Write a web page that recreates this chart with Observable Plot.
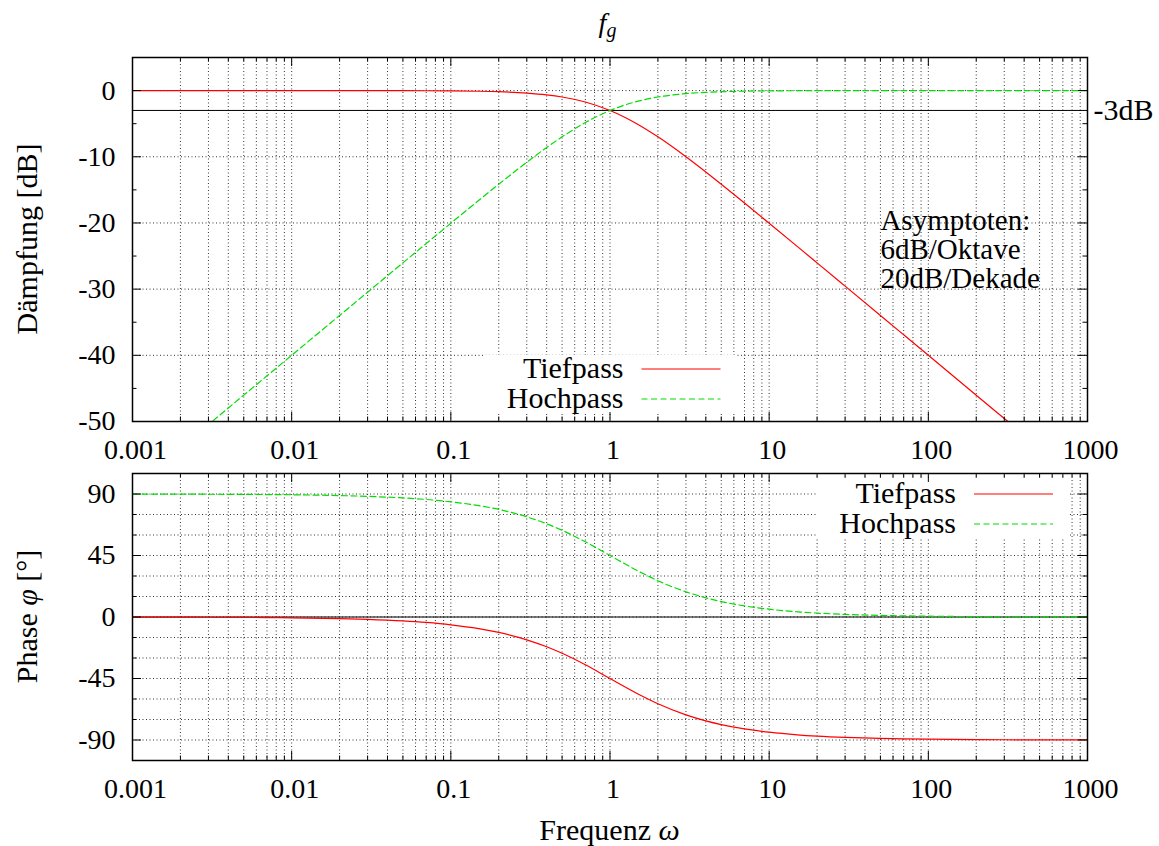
<!DOCTYPE html>
<html><head><meta charset="utf-8">
<script src="https://cdn.jsdelivr.net/npm/d3@7"></script>
<script src="https://cdn.jsdelivr.net/npm/@observablehq/plot@0.6"></script>
<style>
body{margin:0;background:#fff;}
#chart{position:relative;width:1159px;height:846px;background:#fff;}
#chart svg{position:absolute;left:0;font-family:"Liberation Serif",serif;}
#chart svg text{font-family:"Liberation Serif",serif;}
</style></head><body><div id="chart"></div>
<script>
// ---- data ----
const omega = [0.001,0.002,0.003,0.005,0.007,0.01,0.02,0.03,0.05,0.07,0.1,0.15,0.2,0.3,0.4,0.5,0.7,1,1.5,2,3,4,5,7,10,15,20,30,50,70,100,200,300,500,1000];
const tiefpassDB = [0,0,0,0,0,-0.0004,-0.0017,-0.004,-0.011,-0.021,-0.043,-0.097,-0.17,-0.374,-0.645,-0.969,-1.728,-3.01,-5.119,-6.99,-10.0,-12.304,-14.15,-16.99,-20.043,-23.54,-26.031,-29.547,-33.98,-36.902,-40.0,-46.021,-49.542,-53.979,-60.0];
const hochpassDB = [-60,-53.98,-50.46,-46.02,-43.1,-40.0,-33.98,-30.46,-26.03,-23.12,-20.04,-16.58,-14.15,-10.83,-8.6,-6.99,-4.83,-3.01,-1.6,-0.97,-0.46,-0.26,-0.17,-0.088,-0.043,-0.019,-0.011,-0.005,-0.002,-0.001,0,0,0,0,0];
const tiefpassPhase = [-0.06,-0.11,-0.17,-0.29,-0.4,-0.57,-1.15,-1.72,-2.86,-4.0,-5.71,-8.53,-11.31,-16.7,-21.8,-26.57,-34.99,-45,-56.31,-63.43,-71.57,-75.96,-78.69,-81.87,-84.29,-86.19,-87.14,-88.09,-88.85,-89.18,-89.43,-89.71,-89.81,-89.89,-89.94];
const hochpassPhase = [89.94,89.89,89.83,89.71,89.6,89.43,88.85,88.28,87.14,86.0,84.29,81.47,78.69,73.3,68.2,63.43,55.01,45,33.69,26.57,18.43,14.04,11.31,8.13,5.71,3.81,2.86,1.91,1.15,0.82,0.57,0.29,0.19,0.11,0.06];

const xTicks = [0.001,0.01,0.1,1,10,100,1000];
const xMinorTicks = [0.002,0.003,0.004,0.005,0.006,0.007,0.008,0.009,0.02,0.03,0.04,0.05,0.06,0.07,0.08,0.09,0.2,0.3,0.4,0.5,0.6,0.7,0.8,0.9,2,3,4,5,6,7,8,9,20,30,40,50,60,70,80,90,200,300,400,500,600,700,800,900];
const dbTicks = [-50,-40,-30,-20,-10,0];
const dbMinorTicks = [-45,-35,-25,-15,-5];
const phaseTicks = [-90,-45,0,45,90];
const phaseMinorTicks = [-75,-60,-30,-15,15,30,60,75];
const phaseGrid = [-90,-75,-60,-45,-30,-15,0,15,30,45,60,75,90];
const seriesNames = ["Tiefpass","Hochpass"];
const seriesColors = ["#ff0000","#00dd00"];
const seriesDash = [null,"6,3.5"];
const refLevel = [{label:"-3dB", y:-3}];
const phaseZero = [0];
const asymptoteNote = [{x:50, y:-20, text:"Asymptoten:\n6dB/Oktave\n20dB/Dekade"}];

// ---- layout ----
const FONT = "Liberation Serif";
const FS = 28;   // numbers
const FT = 30;   // words
const WIDTH = 1159, ML = 132, MR = 72;
const IW = WIDTH - ML - MR;
const gridStyle = {stroke:"#000", strokeOpacity:0.8, strokeWidth:1, strokeDasharray:"1,2.5"};

function rows(values) { return omega.map((w,i)=>({w, v: values[i]})); }

function decorations(H, yMajor, yMinor, yGrid) {
  return {
    grid: [
      Plot.ruleX(xTicks.concat(xMinorTicks), {x:d=>d, ...gridStyle}),
      Plot.ruleY(yGrid, {y:d=>d, ...gridStyle})
    ],
    ticks: [
      Plot.tickX(xTicks, {x:d=>d, insetTop:H-9, stroke:"#000"}),
      Plot.tickX(xTicks, {x:d=>d, insetBottom:H-9, stroke:"#000"}),
      Plot.tickX(xMinorTicks, {x:d=>d, insetTop:H-4.5, stroke:"#000"}),
      Plot.tickX(xMinorTicks, {x:d=>d, insetBottom:H-4.5, stroke:"#000"}),
      Plot.tickY(yMajor, {y:d=>d, insetRight:IW-9, stroke:"#000"}),
      Plot.tickY(yMajor, {y:d=>d, insetLeft:IW-9, stroke:"#000"}),
      Plot.tickY(yMinor, {y:d=>d, insetRight:IW-4.5, stroke:"#000"}),
      Plot.tickY(yMinor, {y:d=>d, insetLeft:IW-4.5, stroke:"#000"}),
      Plot.frame({stroke:"#000", strokeWidth:1.5})
    ]
  };
}

function legendMark(place) {
  return (index, scales, values, dims) => {
    const {width, height, marginLeft, marginRight, marginTop, marginBottom} = dims;
    const fx0 = marginLeft, fx1 = width - marginRight, fy0 = marginTop, fy1 = height - marginBottom;
    const bw = 252, bh = 58;
    let bx, by;
    if (place === "bottom-center") { bx = (fx0+fx1)/2 - bw/2; by = fy1 - 8 - bh; }
    else { bx = fx1 - 19 - bw; by = fy0 + 7; }
    const g = d3.create("svg:g");
    g.append("rect").attr("x",bx).attr("y",by).attr("width",bw).attr("height",bh).attr("fill","#fff");
    seriesNames.forEach((name,i) => {
      const cy = by + 14 + i*30;
      g.append("text").attr("x",bx+140).attr("y",cy).attr("dy","0.3em")
        .attr("text-anchor","end").attr("font-family",FONT).attr("font-size",FT).attr("fill","#000").text(name);
      const ln = g.append("line").attr("x1",bx+158).attr("x2",bx+237).attr("y1",cy).attr("y2",cy)
        .attr("stroke",seriesColors[i]).attr("stroke-width",1.2);
      if (seriesDash[i]) ln.attr("stroke-dasharray",seriesDash[i]);
    });
    return g.node();
  };
}

function curves(dataA, dataB, clip) {
  return [dataA, dataB].map((vals,i) => Plot.line(rows(vals), {
    x:"w", y:"v", stroke:seriesColors[i], strokeWidth:1.2,
    strokeDasharray: seriesDash[i] || undefined, curve:"monotone-x", clip
  }));
}

const axisOpts = {tickSize:0, fontSize:FS, fontFamily:FONT, label:null, fill:"#000"};

// ---- top panel ----
const TOP_H = 465;
const topDec = decorations(TOP_H - 57 - 44, dbTicks, dbMinorTicks, dbTicks);
const topPlot = Plot.plot({
  width: WIDTH, height: TOP_H,
  marginLeft: ML, marginRight: MR, marginTop: 57, marginBottom: 44,
  style: {fontFamily: FONT, fontSize: FS+"px", background:"transparent", overflow:"visible"},
  x: {type:"log", domain:[0.001,1000]},
  y: {domain:[-50,5]},
  marks: [
    ...topDec.grid,
    legendMark("bottom-center"),
    Plot.ruleY(refLevel, {y:"y", stroke:"#000", strokeWidth:1}),
    Plot.text(refLevel, {y:"y", text:"label", frameAnchor:"right", dx:6, textAnchor:"start", fontSize:FT, fontFamily:FONT, fill:"#000"}),
    Plot.text(asymptoteNote, {x:"x", y:"y", text:"text", textAnchor:"start", lineAnchor:"top", lineHeight:1.0, dy:-14, fontSize:29, fontFamily:FONT, fill:"#000"}),
    ...curves(tiefpassDB, hochpassDB, true),
    ...topDec.ticks,
    Plot.axisX({ticks:xTicks, tickFormat:d=>String(d), tickPadding:18, dx:3, ...axisOpts}),
    Plot.axisY({ticks:dbTicks, tickFormat:d=>String(d), tickPadding:17, ...axisOpts})
  ]
});
topPlot.style.top = "0px";

// ---- bottom panel ----
const BOT_H = 381;
const botDec = decorations(BOT_H - 8 - 86, phaseTicks, phaseMinorTicks, phaseGrid);
const bottomPlot = Plot.plot({
  width: WIDTH, height: BOT_H,
  marginLeft: ML, marginRight: MR, marginTop: 8, marginBottom: 86,
  style: {fontFamily: FONT, fontSize: FS+"px", background:"transparent", overflow:"visible"},
  x: {type:"log", domain:[0.001,1000]},
  y: {domain:[-105,105]},
  marks: [
    ...botDec.grid,
    legendMark("top-right"),
    Plot.ruleY(phaseZero, {y:d=>d, stroke:"#000", strokeWidth:1}),
    ...curves(tiefpassPhase, hochpassPhase, true),
    ...botDec.ticks,
    Plot.axisX({ticks:xTicks, tickFormat:d=>String(d), tickPadding:18, dx:3, ...axisOpts}),
    Plot.axisY({ticks:phaseTicks, tickFormat:d=>String(d), tickPadding:17, ...axisOpts})
  ]
});
bottomPlot.style.top = TOP_H + "px";

const chart = document.getElementById("chart");
chart.appendChild(topPlot);
chart.appendChild(bottomPlot);

// ---- titles with mixed styles ----
const fxPos = topPlot.scale("x").apply(1);
const tsvg = d3.select(topPlot);
const fg = tsvg.append("text").attr("x", fxPos - 2).attr("y", 32).attr("text-anchor","middle")
  .attr("font-family", FONT).attr("font-size", 28).attr("font-style","italic").attr("fill","#000");
fg.append("tspan").text("f");
fg.append("tspan").attr("dy", 5).attr("font-size", 20).text("g");

tsvg.append("text").attr("transform", `translate(37,${57 + (TOP_H-57-44)/2}) rotate(-90)`)
  .attr("text-anchor","middle").attr("font-family",FONT).attr("font-size",FT).attr("fill","#000")
  .text("Dämpfung [dB]");

const bsvg = d3.select(bottomPlot);
const ph = bsvg.append("text").attr("transform", `translate(37,${8 + (BOT_H-8-86)/2}) rotate(-90)`)
  .attr("text-anchor","middle").attr("font-family",FONT).attr("font-size",FT).attr("fill","#000");
ph.append("tspan").text("Phase ");
ph.append("tspan").attr("font-style","italic").text("φ");
ph.append("tspan").text(" [°]");

const fq = bsvg.append("text").attr("x", ML + IW/2).attr("y", 375).attr("text-anchor","middle")
  .attr("font-family",FONT).attr("font-size",FT).attr("fill","#000");
fq.append("tspan").text("Frequenz ");
fq.append("tspan").attr("font-style","italic").text("ω");
</script></body></html>
